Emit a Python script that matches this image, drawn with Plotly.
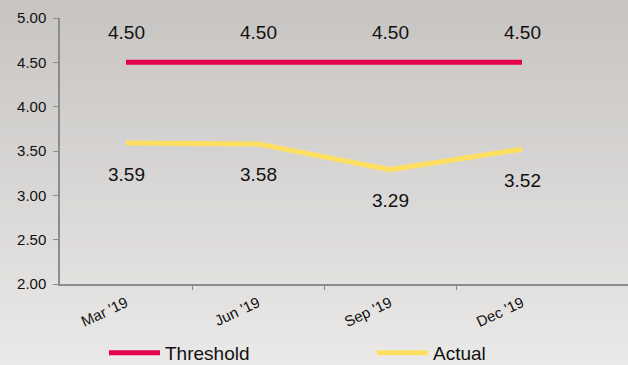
import plotly.graph_objects as go

# Quarterly data
quarters = ["Mar '19", "Jun '19", "Sep '19", "Dec '19"]
threshold = [4.50, 4.50, 4.50, 4.50]
actual = [3.59, 3.58, 3.29, 3.52]
y_ticks = [2.0, 2.5, 3.0, 3.5, 4.0, 4.5, 5.0]

RED = "#e5004b"
YELLOW = "#ffdf60"
AXIS = "#8c8c8c"
FONT = "Liberation Sans, Arial, sans-serif"
TXT = "#111111"

W, H = 628, 365
ML, MR, MT, MB = 60, 0, 18, 81
pw = W - ML - MR
ph = H - MT - MB
cat_w = 132.0  # pixel width of one quarter on the x axis

xpos = list(range(len(quarters)))

fig = go.Figure()
fig.add_trace(go.Scatter(x=xpos, y=threshold, name="Threshold", mode="lines",
                         line=dict(color=RED, width=5), legend="legend"))
fig.add_trace(go.Scatter(x=xpos, y=actual, name="Actual", mode="lines",
                         line=dict(color=YELLOW, width=5), legend="legend2"))

# Value labels: threshold above its line, actual below
annotations = []
for xi, v in zip(xpos, threshold):
    annotations.append(dict(x=xi, y=v, text=f"{v:.2f}", showarrow=False,
                            yshift=30, font=dict(size=19, color=TXT, family=FONT)))
for xi, v in zip(xpos, actual):
    annotations.append(dict(x=xi, y=v, text=f"{v:.2f}", showarrow=False,
                            yshift=-31, font=dict(size=19, color=TXT, family=FONT)))

# Vertical grey gradient background built from thin strips
top_rgb = (199, 196, 194)
bot_rgb = (234, 233, 231)
n = 60
shapes = []
y_lo = -MB / ph
y_hi = 1 + MT / ph
for i in range(n):
    t = i / (n - 1)
    c = tuple(round(top_rgb[k] + (bot_rgb[k] - top_rgb[k]) * t) for k in range(3))
    y1 = y_hi - (y_hi - y_lo) * i / n
    y0 = y_hi - (y_hi - y_lo) * (i + 1) / n
    shapes.append(dict(type="rect", xref="paper", yref="paper",
                       x0=-ML / pw - 0.01, x1=1 + MR / pw + 0.01, y0=y0 - 0.004, y1=y1,
                       fillcolor=f"rgb{c}", line=dict(width=0), layer="below"))

legend_common = dict(orientation="h", xanchor="left", y=-(353 - (MT + ph)) / ph,
                     yanchor="middle", font=dict(size=19, family=FONT, color=TXT),
                     itemwidth=51, bgcolor="rgba(0,0,0,0)", borderwidth=0)

fig.update_layout(
    width=W, height=H,
    margin=dict(l=ML, r=MR, t=MT, b=MB, autoexpand=False),
    paper_bgcolor="rgba(0,0,0,0)", plot_bgcolor="rgba(0,0,0,0)",
    font=dict(family=FONT, color=TXT),
    shapes=shapes,
    annotations=annotations,
    showlegend=True,
    legend=dict(x=(104 - ML) / pw, **legend_common),
    legend2=dict(x=(372 - ML) / pw, **legend_common),
    xaxis=dict(
        range=[-0.5, -0.5 + pw / cat_w],
        tickmode="array", tickvals=xpos, ticktext=quarters,
        tickangle=-25, ticks="", showgrid=False, zeroline=False,
        showline=True, linecolor=AXIS, linewidth=1.5,
        tickfont=dict(size=15, family=FONT, color=TXT),
        ticklabelstandoff=3,
        minor=dict(tickmode="array", tickvals=[0.5, 1.5, 2.5], ticks="outside",
                   ticklen=4, tickcolor=AXIS, tickwidth=1, showgrid=False),
        fixedrange=True,
    ),
    yaxis=dict(
        range=[2.0, 5.0], tickmode="array", tickvals=y_ticks,
        ticktext=[f"{v:.2f}" for v in y_ticks],
        ticks="outside", ticklen=5, tickcolor=AXIS, tickwidth=1,
        showgrid=False, zeroline=False,
        showline=True, linecolor=AXIS, linewidth=1.5,
        tickfont=dict(size=15, family=FONT, color=TXT),
        ticklabelstandoff=4,
        fixedrange=True,
    ),
)

fig.write_html("out.html", config={"displayModeBar": False})
